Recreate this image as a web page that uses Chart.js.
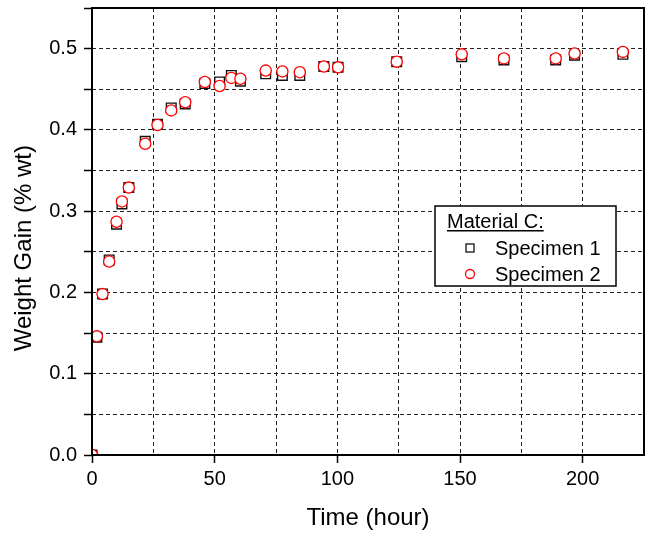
<!DOCTYPE html>
<html>
<head>
<meta charset="utf-8">
<script src="https://cdn.jsdelivr.net/npm/chart.js@4/dist/chart.umd.min.js"></script>
<style>
  body { margin: 0; background: #fff; }
  #wrap { width: 647px; height: 539px; position: relative; }
</style>
</head>
<body>
<div id="wrap"><canvas id="chart"></canvas></div>
<script>
// time of each weighing (hour), same for both specimens
const hours = [0, 2, 4.3, 7, 10, 12.2, 15, 21.7, 26.7, 32.3, 38, 46, 52, 56.8, 60.5,
    70.8, 77.6, 84.7, 94.5, 100.3, 124.2, 150.7, 167.9, 189, 196.7, 216.4];
// weight gain (% wt)
const specimen1 = [0, 0.145, 0.198, 0.240, 0.284, 0.309, 0.329, 0.386, 0.407, 0.427, 0.432,
    0.457, 0.459, 0.467, 0.460, 0.469, 0.467, 0.467, 0.478, 0.477, 0.484, 0.490, 0.486,
    0.486, 0.492, 0.493];
const specimen2 = [0, 0.146, 0.198, 0.238, 0.287, 0.312, 0.329, 0.383, 0.406, 0.424, 0.434,
    0.459, 0.454, 0.464, 0.463, 0.473, 0.472, 0.471, 0.478, 0.477, 0.484, 0.493, 0.488,
    0.488, 0.494, 0.496];
const seriesNames = ['Specimen 1', 'Specimen 2'];
const legendTitle = 'Material C:';

function toPoints (xs, ys) {
    return xs.map((x, i) => ({ x: x, y: ys[i] }));
}

const font = 'Arial, "Liberation Sans", sans-serif';

// box round the plot and the legend inside it
const framePlugin = {
    id: 'frame',
    afterDraw (chart) {
        const ctx = chart.ctx;
        const a = chart.chartArea;
        ctx.save();
        ctx.strokeStyle = '#000';
        ctx.lineWidth = 2;
        ctx.strokeRect(a.left, a.top, a.right - a.left, a.bottom - a.top);

        // legend
        const bx = a.left + 343, by = a.top + 198, bw = 181, bh = 80;
        ctx.fillStyle = '#fff';
        ctx.fillRect(bx, by, bw, bh);
        ctx.lineWidth = 1.5;
        ctx.strokeRect(bx, by, bw, bh);
        ctx.fillStyle = '#000';
        ctx.font = '20px ' + font;
        ctx.textBaseline = 'alphabetic';
        ctx.fillText(legendTitle, bx + 12, by + 22);
        const tw = ctx.measureText(legendTitle).width;
        ctx.fillRect(bx + 12, by + 24, tw, 1.5);

        chart.data.datasets.forEach((ds, i) => {
            const cy = by + 42 + i * 26;
            ctx.lineWidth = 1.3;
            ctx.strokeStyle = ds.borderColor;
            ctx.fillStyle = '#fff';
            if (ds.pointStyle === 'rect') {
                ctx.fillRect(bx + 31, cy - 4, 8, 8);
                ctx.strokeRect(bx + 31, cy - 4, 8, 8);
            } else {
                ctx.beginPath();
                ctx.arc(bx + 35, cy, 4.5, 0, Math.PI * 2);
                ctx.fill();
                ctx.stroke();
            }
            ctx.fillStyle = '#000';
            ctx.fillText(ds.label, bx + 60, cy + 7);
        });
        ctx.restore();
    }
};

const ctx = document.querySelector('#chart').getContext('2d');
const chart = new Chart(ctx, {
    type: 'scatter',
    data: {
        datasets: [{
            label: seriesNames[0],
            data: toPoints(hours, specimen1),
            pointStyle: 'rect',
            pointRadius: 6.8,
            borderColor: '#111',
            backgroundColor: '#fff',
            pointBorderWidth: 1.4,
            clip: 0,
            order: 1
        }, {
            label: seriesNames[1],
            data: toPoints(hours, specimen2),
            pointStyle: 'circle',
            pointRadius: 5.6,
            borderColor: '#ff0000',
            backgroundColor: '#fff',
            pointBorderWidth: 1.3,
            clip: 0,
            order: 0
        }]
    },
    options: {
        responsive: true,
        maintainAspectRatio: false,
        animation: false,
        layout: { autoPadding: false, padding: { left: 0, top: 8, right: 3, bottom: 0 } },
        plugins: {
            legend: { display: false },
            tooltip: { enabled: false }
        },
        scales: {
            x: {
                type: 'linear',
                min: 0,
                max: 225,
                afterFit (scale) {
                    scale.height = 84;
                    scale.paddingLeft = 0;
                    scale.paddingRight = 0;
                },
                border: { display: false, dash: [4, 3] },
                grid: {
                    color: '#222',
                    tickColor: c => (c.tick && c.tick.value % 50 === 0) ? '#000' : 'rgba(0,0,0,0)',
                    tickBorderDash: [],
                    tickLength: 8,
                    tickWidth: 1.5
                },
                ticks: {
                    stepSize: 25,
                    autoSkip: false,
                    maxRotation: 0,
                    padding: 4,
                    color: '#000',
                    font: { family: font, size: 20 },
                    callback: v => (v % 50 === 0) ? String(v) : ''
                },
                title: {
                    display: true,
                    text: 'Time (hour)',
                    color: '#000',
                    font: { family: font, size: 24 },
                    padding: { top: 0, bottom: 6 }
                }
            },
            y: {
                min: 0,
                max: 0.55,
                afterFit (scale) {
                    scale.width = 92;
                    scale.paddingTop = 0;
                    scale.paddingBottom = 0;
                },
                border: { display: false, dash: [4, 3] },
                grid: {
                    color: '#222',
                    tickColor: '#000',
                    tickBorderDash: [],
                    tickLength: 8,
                    tickWidth: 1.5
                },
                ticks: {
                    stepSize: 0.05,
                    autoSkip: false,
                    padding: 7,
                    color: '#000',
                    font: { family: font, size: 20 },
                    callback: v => (Math.round(v * 100) % 10 === 0) ? v.toFixed(1) : ''
                },
                title: {
                    display: true,
                    text: 'Weight Gain (% wt)     ',
                    color: '#000',
                    font: { family: font, size: 24 },
                    padding: { top: 10, bottom: 0 }
                }
            }
        }
    },
    plugins: [framePlugin]
});
</script>
</body>
</html>
